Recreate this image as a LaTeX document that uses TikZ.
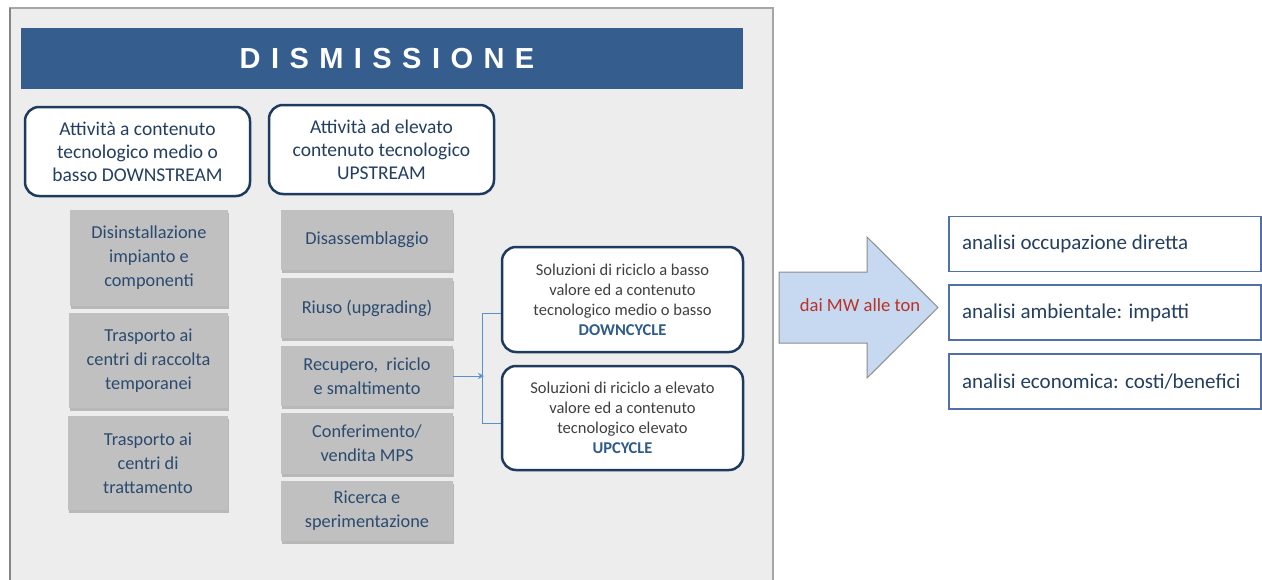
\documentclass[tikz,border=0pt]{standalone}
\usepackage{fontspec}
\setmainfont{Carlito}
\newfontfamily\titlefont{Liberation Sans}[LetterSpace=36]
\usetikzlibrary{shadows,arrows.meta}
\definecolor{panelfill}{HTML}{EDEDED}
\definecolor{panelline}{HTML}{A6A6A6}
\definecolor{barblue}{HTML}{355E8E}
\definecolor{navy}{HTML}{1F3A5F}
\definecolor{navytext}{HTML}{243F60}
\definecolor{graybox}{HTML}{C0C0C0}
\definecolor{graytext}{HTML}{2B4A6F}
\definecolor{darktext}{HTML}{404040}
\definecolor{cycleblue}{HTML}{2E5C8A}
\definecolor{connblue}{HTML}{5B8FD0}
\definecolor{arrowfill}{HTML}{C6D9F1}
\definecolor{arrowline}{HTML}{8C8C8C}
\definecolor{redtext}{HTML}{B83227}
\definecolor{rline}{HTML}{4F71A8}
\tikzset{
  headbox/.style={draw=navy, line width=2.5pt, fill=white, rounded corners=14pt,
    minimum width=225pt, minimum height=89pt, align=center, text=navytext,
    font=\fontsize{19.5}{23}\selectfont},
  grayitem/.style={fill=graybox, draw=none, align=center, text=graytext,
    drop shadow={shadow xshift=0.5pt, shadow yshift=-3pt, fill=black, opacity=0.22},
    font=\fontsize{18.3}{24}\selectfont},
  cyclebox/.style={draw=navy, line width=2.5pt, fill=white, rounded corners=14pt,
    minimum width=241pt, align=center, text=darktext,
    font=\fontsize{16.5}{20}\selectfont},
  rbox/.style={draw=rline, line width=1.3pt, fill=white, minimum height=55pt,
    text width=286pt, inner xsep=13pt, align=flush left, text=navytext,
    font=\fontsize{21}{25}\selectfont},
  conn/.style={draw=connblue, line width=1pt},
}
\begin{document}
\begin{tikzpicture}[x=1pt,y=-1pt]
\useasboundingbox (0,0) rectangle (1262,579);
\fill[white] (0,0) rectangle (1262,579);
% panel
\draw[panelline, fill=panelfill, line width=1.5pt] (10,8) rectangle (773,600);
\draw[panelline!80!black, line width=2.5pt] (10,8) -- (10,600);
% title bar
\node[fill=barblue, minimum width=722pt, minimum height=61pt, inner sep=0pt,
  text=white, font=\titlefont\bfseries\fontsize{29}{32}\selectfont] (title) at (382,58.5) {\hspace{10pt}DISMISSIONE};
% head boxes
\node[headbox] (down) at (137.5,151.5) {Attività a contenuto\\tecnologico medio o\\basso DOWNSTREAM};
\node[headbox] (up) at (381.5,149.5) {Attività ad elevato\\contenuto tecnologico\\UPSTREAM};
% left column
\node[grayitem, minimum width=158pt, minimum height=96pt] (dis) at (149,258) {Disinstallazione\\impianto e\\componenti};
\node[grayitem, minimum width=159pt, minimum height=95pt] (tr1) at (148.5,360.5) {Trasporto ai\\centri di raccolta\\temporanei};
\node[grayitem, minimum width=160pt, minimum height=94pt] (tr2) at (148,463) {Trasporto ai\\centri di\\trattamento};
% middle column
\node[grayitem, minimum width=172pt, minimum height=60pt] (dsa) at (367,240) {Disassemblaggio};
\node[grayitem, minimum width=172pt, minimum height=60pt] (riu) at (367,308) {Riuso (upgrading)};
\node[grayitem, minimum width=172pt, minimum height=60pt] (rec) at (367,376) {Recupero,~ riciclo\\e smaltimento};
\node[grayitem, minimum width=172pt, minimum height=61pt] (conf) at (367,443.5) {Conferimento/\\vendita MPS};
\node[grayitem, minimum width=172pt, minimum height=60pt] (ric) at (367,511) {Ricerca e\\sperimentazione};
% cycle boxes
\node[cyclebox, minimum height=105pt] (dc) at (622.5,299.5) {Soluzioni di riciclo a basso\\valore ed a contenuto\\tecnologico medio o basso\\{\bfseries\color{cycleblue}DOWNCYCLE}};
\node[cyclebox, minimum height=104pt] (uc) at (622.5,418) {Soluzioni di riciclo a elevato\\valore ed a contenuto\\tecnologico elevato\\{\bfseries\color{cycleblue}UPCYCLE}};
% connectors
\coordinate (bj) at (484,376);
\draw[conn, -{Stealth[length=6pt,width=6pt]}] (rec.east) -- (bj);
\draw[conn] ([yshift=-13.5pt]dc.west) -- ++(-18,0) |- ([yshift=-5pt]uc.west);
% big arrow
\draw[arrowline, fill=arrowfill, line width=1pt, line join=miter]
  (779,272) -- (867,272) -- (867,237) -- (938,307.5) -- (867,378) -- (867,343) -- (779,343) -- cycle;
\node[text=redtext, font=\fontsize{18.6}{22}\selectfont] (mw) at (860,305) {dai MW alle ton};
% right boxes
\node[rbox] (r1) at (1105,244) {analisi occupazione diretta};
\node[rbox] (r2) at (1105,312.5) {analisi ambientale: impatti};
\node[rbox] (r3) at (1105,381.5) {analisi economica: costi/benefici};
\end{tikzpicture}
\end{document}
